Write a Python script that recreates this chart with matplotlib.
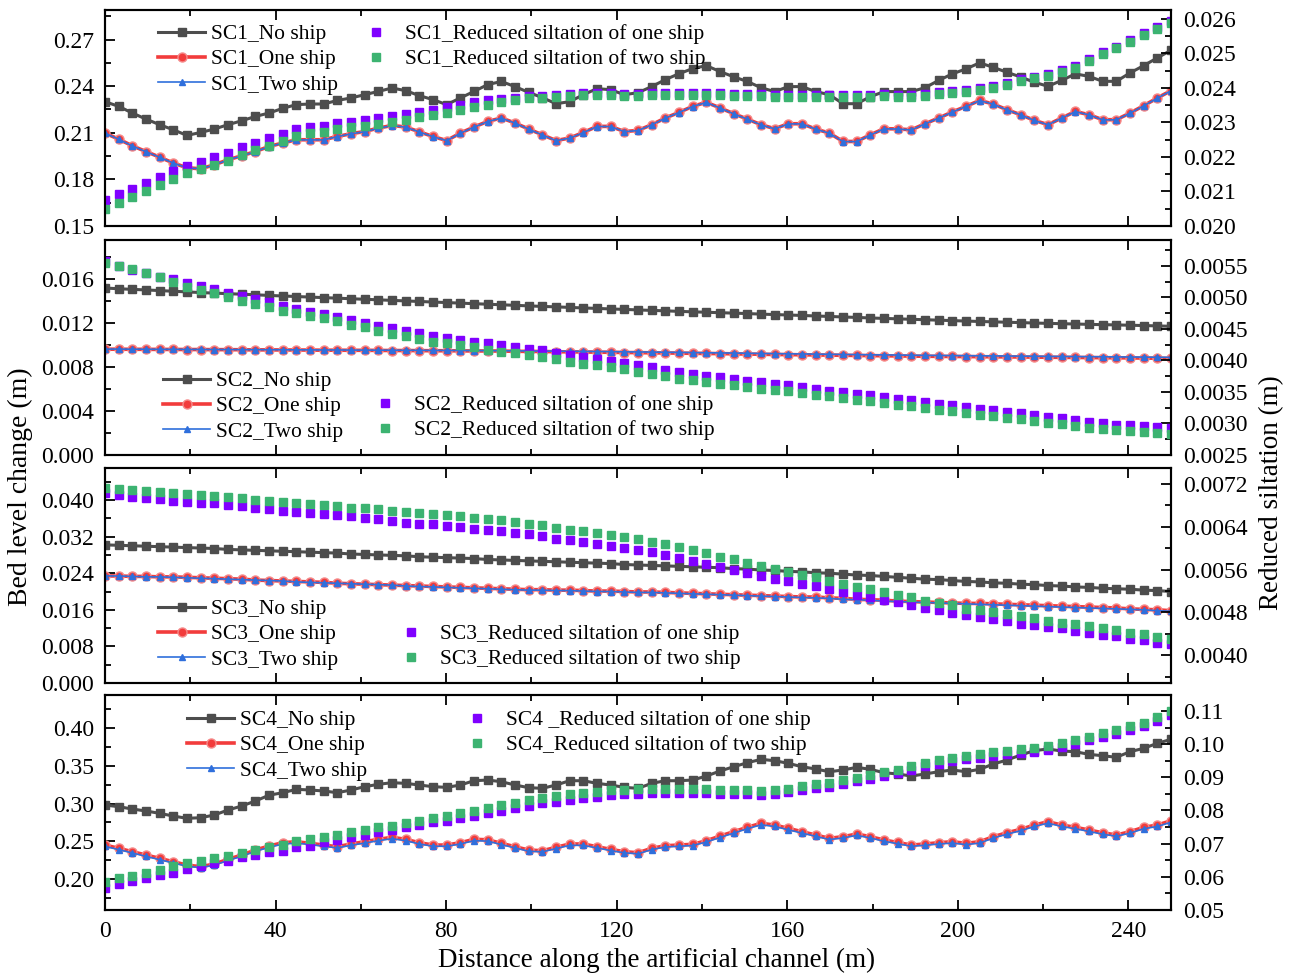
import numpy as np
import matplotlib
matplotlib.use("Agg")
import matplotlib.pyplot as plt
from matplotlib.ticker import MultipleLocator, FormatStrFormatter

plt.rcParams['font.family'] = ['Liberation Serif', 'DejaVu Serif']

# distance along the channel (79 stations, 0-250 m)
dist = np.linspace(0, 250, 79)

# ---------------- SC1 ----------------
sc1_no = [0.2300, 0.2270, 0.2227, 0.2188, 0.2152, 0.2119, 0.2083, 0.2102, 0.2124, 0.2152,
          0.2177, 0.2205, 0.2227, 0.2257, 0.2281, 0.2285, 0.2285, 0.2308, 0.2324, 0.2345,
          0.2366, 0.2388, 0.2371, 0.2339, 0.2313, 0.2281, 0.2324, 0.2366, 0.2410, 0.2430,
          0.2397, 0.2360, 0.2326, 0.2287, 0.2300, 0.2345, 0.2384, 0.2377, 0.2345, 0.2358,
          0.2397, 0.2442, 0.2480, 0.2513, 0.2532, 0.2494, 0.2460, 0.2430, 0.2390, 0.2365,
          0.2397, 0.2397, 0.2365, 0.2345, 0.2287, 0.2287, 0.2332, 0.2365, 0.2365, 0.2365,
          0.2390, 0.2437, 0.2479, 0.2511, 0.2550, 0.2521, 0.2489, 0.2459, 0.2425, 0.2399,
          0.2437, 0.2479, 0.2463, 0.2431, 0.2431, 0.2485, 0.2532, 0.2582, 0.2631]
sc1_one = [0.2098, 0.2059, 0.2016, 0.1979, 0.1943, 0.1905, 0.1875, 0.1868, 0.1894, 0.1926,
           0.1952, 0.1979, 0.2012, 0.2034, 0.2055, 0.2055, 0.2055, 0.2076, 0.2094, 0.2108,
           0.2130, 0.2147, 0.2137, 0.2106, 0.2076, 0.2050, 0.2098, 0.2137, 0.2173, 0.2195,
           0.2163, 0.2124, 0.2087, 0.2050, 0.2066, 0.2102, 0.2141, 0.2141, 0.2108, 0.2115,
           0.2152, 0.2195, 0.2231, 0.2270, 0.2296, 0.2260, 0.2223, 0.2188, 0.2152, 0.2126,
           0.2158, 0.2158, 0.2124, 0.2098, 0.2044, 0.2044, 0.2087, 0.2126, 0.2125, 0.2119,
           0.2158, 0.2195, 0.2234, 0.2270, 0.2308, 0.2285, 0.2248, 0.2216, 0.2180, 0.2152,
           0.2195, 0.2237, 0.2216, 0.2184, 0.2184, 0.2227, 0.2274, 0.2324, 0.2371]
sc1_two = [0.2097, 0.2058, 0.2015, 0.1978, 0.1942, 0.1905, 0.1874, 0.1868, 0.1893, 0.1925,
           0.1951, 0.1978, 0.2011, 0.2033, 0.2054, 0.2054, 0.2054, 0.2075, 0.2093, 0.2107,
           0.2129, 0.2146, 0.2136, 0.2105, 0.2075, 0.2049, 0.2097, 0.2136, 0.2172, 0.2194,
           0.2162, 0.2123, 0.2086, 0.2049, 0.2065, 0.2101, 0.2140, 0.2140, 0.2107, 0.2114,
           0.2151, 0.2194, 0.2230, 0.2269, 0.2295, 0.2259, 0.2222, 0.2187, 0.2151, 0.2125,
           0.2157, 0.2157, 0.2123, 0.2097, 0.2043, 0.2043, 0.2086, 0.2125, 0.2124, 0.2118,
           0.2157, 0.2194, 0.2233, 0.2269, 0.2307, 0.2284, 0.2247, 0.2215, 0.2179, 0.2151,
           0.2194, 0.2236, 0.2215, 0.2183, 0.2183, 0.2226, 0.2273, 0.2323, 0.2370]
sc1_red_one = [0.02075, 0.02092, 0.02107, 0.02126, 0.02143, 0.02159, 0.02175, 0.02186, 0.02201, 0.02212,
               0.02228, 0.02240, 0.02254, 0.02267, 0.02281, 0.02288, 0.02291, 0.02298, 0.02302, 0.02307,
               0.02312, 0.02319, 0.02324, 0.02330, 0.02336, 0.02344, 0.02351, 0.02359, 0.02365, 0.02368,
               0.02372, 0.02376, 0.02377, 0.02379, 0.02382, 0.02385, 0.02386, 0.02386, 0.02384, 0.02384,
               0.02386, 0.02386, 0.02386, 0.02386, 0.02386, 0.02386, 0.02384, 0.02384, 0.02383, 0.02381,
               0.02379, 0.02379, 0.02379, 0.02381, 0.02379, 0.02379, 0.02379, 0.02382, 0.02381, 0.02379,
               0.02383, 0.02387, 0.02391, 0.02394, 0.02399, 0.02406, 0.02414, 0.02425, 0.02433, 0.02441,
               0.02452, 0.02464, 0.02484, 0.02503, 0.02520, 0.02539, 0.02559, 0.02576, 0.02593]
sc1_red_two = [0.02048, 0.02066, 0.02083, 0.02101, 0.02119, 0.02135, 0.02153, 0.02164, 0.02177, 0.02189,
               0.02206, 0.02220, 0.02233, 0.02247, 0.02261, 0.02269, 0.02273, 0.02281, 0.02286, 0.02290,
               0.02296, 0.02302, 0.02307, 0.02315, 0.02322, 0.02327, 0.02336, 0.02344, 0.02351, 0.02360,
               0.02365, 0.02370, 0.02370, 0.02373, 0.02377, 0.02380, 0.02380, 0.02380, 0.02377, 0.02377,
               0.02380, 0.02380, 0.02380, 0.02380, 0.02380, 0.02380, 0.02377, 0.02377, 0.02377, 0.02375,
               0.02373, 0.02373, 0.02373, 0.02375, 0.02373, 0.02373, 0.02373, 0.02377, 0.02375, 0.02373,
               0.02378, 0.02382, 0.02386, 0.02389, 0.02394, 0.02401, 0.02409, 0.02420, 0.02428, 0.02436,
               0.02447, 0.02459, 0.02479, 0.02498, 0.02515, 0.02534, 0.02554, 0.02571, 0.02588]

# ---------------- SC2 ----------------
sc2_no = [0.01518, 0.01512, 0.01506, 0.01501, 0.01495, 0.01489, 0.01483, 0.01477, 0.01472, 0.01467,
          0.01462, 0.01457, 0.01451, 0.01446, 0.01441, 0.01436, 0.01431, 0.01426, 0.01421, 0.01416,
          0.01411, 0.01406, 0.01401, 0.01396, 0.01391, 0.01386, 0.01381, 0.01376, 0.01371, 0.01366,
          0.01361, 0.01356, 0.01351, 0.01347, 0.01342, 0.01337, 0.01333, 0.01328, 0.01324, 0.01319,
          0.01315, 0.01311, 0.01306, 0.01302, 0.01298, 0.01294, 0.01290, 0.01286, 0.01281, 0.01277,
          0.01273, 0.01269, 0.01264, 0.01260, 0.01255, 0.01251, 0.01246, 0.01242, 0.01238, 0.01234,
          0.01230, 0.01226, 0.01222, 0.01218, 0.01214, 0.01211, 0.01207, 0.01204, 0.01200, 0.01197,
          0.01194, 0.01191, 0.01188, 0.01185, 0.01183, 0.01180, 0.01177, 0.01174, 0.01170]
sc2_one = [0.00962, 0.00962, 0.00961, 0.00961, 0.00960, 0.00960, 0.00959, 0.00959, 0.00958, 0.00958,
           0.00957, 0.00956, 0.00956, 0.00955, 0.00955, 0.00954, 0.00953, 0.00953, 0.00952, 0.00952,
           0.00951, 0.00950, 0.00950, 0.00949, 0.00948, 0.00948, 0.00947, 0.00946, 0.00946, 0.00945,
           0.00943, 0.00942, 0.00941, 0.00939, 0.00938, 0.00937, 0.00935, 0.00934, 0.00932, 0.00931,
           0.00929, 0.00928, 0.00926, 0.00925, 0.00923, 0.00922, 0.00920, 0.00918, 0.00916, 0.00914,
           0.00913, 0.00911, 0.00910, 0.00908, 0.00907, 0.00905, 0.00904, 0.00902, 0.00901, 0.00899,
           0.00898, 0.00897, 0.00896, 0.00895, 0.00894, 0.00893, 0.00892, 0.00891, 0.00890, 0.00889,
           0.00888, 0.00887, 0.00886, 0.00885, 0.00884, 0.00883, 0.00881, 0.00880, 0.00878]
sc2_two = [0.00963, 0.00963, 0.00962, 0.00962, 0.00961, 0.00961, 0.00960, 0.00960, 0.00959, 0.00959,
           0.00958, 0.00958, 0.00957, 0.00957, 0.00956, 0.00956, 0.00955, 0.00955, 0.00954, 0.00954,
           0.00953, 0.00953, 0.00952, 0.00952, 0.00951, 0.00951, 0.00950, 0.00950, 0.00949, 0.00948,
           0.00947, 0.00946, 0.00945, 0.00944, 0.00943, 0.00942, 0.00941, 0.00940, 0.00938, 0.00937,
           0.00936, 0.00934, 0.00933, 0.00931, 0.00930, 0.00928, 0.00927, 0.00925, 0.00923, 0.00922,
           0.00920, 0.00919, 0.00917, 0.00916, 0.00914, 0.00913, 0.00911, 0.00910, 0.00909, 0.00907,
           0.00906, 0.00905, 0.00904, 0.00903, 0.00902, 0.00901, 0.00900, 0.00899, 0.00898, 0.00897,
           0.00896, 0.00895, 0.00894, 0.00893, 0.00892, 0.00891, 0.00890, 0.00889, 0.00888]
sc2_red_one = [0.00558, 0.00549, 0.00544, 0.00538, 0.00533, 0.00529, 0.00523, 0.00518, 0.00513, 0.00507,
               0.00502, 0.00497, 0.00492, 0.00487, 0.00481, 0.00477, 0.00474, 0.00469, 0.00464, 0.00460,
               0.00455, 0.00451, 0.00447, 0.00443, 0.00439, 0.00435, 0.00433, 0.00430, 0.00427, 0.00424,
               0.00421, 0.00418, 0.00416, 0.00412, 0.00408, 0.00405, 0.00402, 0.00399, 0.00396, 0.00392,
               0.00389, 0.00385, 0.00381, 0.00379, 0.00375, 0.00373, 0.00371, 0.00368, 0.00365, 0.00363,
               0.00361, 0.00358, 0.00355, 0.00352, 0.00350, 0.00347, 0.00345, 0.00342, 0.00339, 0.00337,
               0.00334, 0.00331, 0.00329, 0.00326, 0.00323, 0.00321, 0.00318, 0.00316, 0.00313, 0.00310,
               0.00308, 0.00305, 0.00302, 0.00300, 0.00298, 0.00297, 0.00296, 0.00294, 0.00293]
sc2_red_two = [0.00554, 0.00550, 0.00545, 0.00539, 0.00532, 0.00525, 0.00517, 0.00512, 0.00507, 0.00500,
               0.00494, 0.00490, 0.00485, 0.00479, 0.00475, 0.00471, 0.00467, 0.00462, 0.00456, 0.00453,
               0.00447, 0.00442, 0.00438, 0.00434, 0.00430, 0.00428, 0.00425, 0.00421, 0.00417, 0.00414,
               0.00411, 0.00408, 0.00406, 0.00402, 0.00398, 0.00395, 0.00392, 0.00389, 0.00386, 0.00382,
               0.00379, 0.00375, 0.00371, 0.00369, 0.00365, 0.00363, 0.00361, 0.00358, 0.00355, 0.00353,
               0.00351, 0.00348, 0.00345, 0.00343, 0.00341, 0.00338, 0.00336, 0.00333, 0.00330, 0.00328,
               0.00325, 0.00322, 0.00320, 0.00317, 0.00314, 0.00312, 0.00309, 0.00307, 0.00304, 0.00301,
               0.00299, 0.00296, 0.00293, 0.00291, 0.00289, 0.00288, 0.00287, 0.00285, 0.00284]

# ---------------- SC3 ----------------
sc3_no = [0.0302, 0.0301, 0.0300, 0.0299, 0.0298, 0.0297, 0.0296, 0.0295, 0.0294, 0.0292,
          0.0291, 0.0290, 0.0289, 0.0288, 0.0287, 0.0286, 0.0285, 0.0284, 0.0282, 0.0281,
          0.0280, 0.0279, 0.0278, 0.0276, 0.0275, 0.0274, 0.0273, 0.0272, 0.0270, 0.0269,
          0.0268, 0.0267, 0.0266, 0.0265, 0.0264, 0.0263, 0.0262, 0.0261, 0.0259, 0.0258,
          0.0257, 0.0256, 0.0255, 0.0254, 0.0253, 0.0252, 0.0250, 0.0249, 0.0247, 0.0246,
          0.0244, 0.0243, 0.0241, 0.0240, 0.0238, 0.0236, 0.0235, 0.0233, 0.0231, 0.0229,
          0.0227, 0.0226, 0.0224, 0.0222, 0.0221, 0.0219, 0.0218, 0.0216, 0.0215, 0.0213,
          0.0212, 0.0210, 0.0209, 0.0207, 0.0206, 0.0205, 0.0203, 0.0202, 0.0200]
sc3_one = [0.0234, 0.0234, 0.0233, 0.0233, 0.0232, 0.0232, 0.0231, 0.0230, 0.0229, 0.0228,
           0.0227, 0.0225, 0.0224, 0.0223, 0.0222, 0.0221, 0.0220, 0.0218, 0.0217, 0.0216,
           0.0215, 0.0214, 0.0213, 0.0212, 0.0211, 0.0210, 0.0209, 0.0208, 0.0207, 0.0206,
           0.0205, 0.0204, 0.0204, 0.0203, 0.0203, 0.0202, 0.0201, 0.0201, 0.0200, 0.0199,
           0.0199, 0.0198, 0.0197, 0.0196, 0.0195, 0.0194, 0.0193, 0.0192, 0.0191, 0.0190,
           0.0189, 0.0188, 0.0188, 0.0186, 0.0185, 0.0183, 0.0182, 0.0181, 0.0179, 0.0178,
           0.0177, 0.0176, 0.0175, 0.0174, 0.0174, 0.0173, 0.0172, 0.0171, 0.0170, 0.0169,
           0.0168, 0.0167, 0.0166, 0.0165, 0.0164, 0.0162, 0.0161, 0.0160, 0.0158]
sc3_two = [0.0234, 0.0234, 0.0233, 0.0232, 0.0232, 0.0231, 0.0230, 0.0229, 0.0228, 0.0227,
           0.0226, 0.0225, 0.0224, 0.0223, 0.0221, 0.0220, 0.0219, 0.0218, 0.0217, 0.0216,
           0.0215, 0.0214, 0.0212, 0.0211, 0.0210, 0.0209, 0.0208, 0.0207, 0.0206, 0.0205,
           0.0204, 0.0203, 0.0203, 0.0202, 0.0202, 0.0201, 0.0200, 0.0200, 0.0199, 0.0198,
           0.0198, 0.0197, 0.0196, 0.0195, 0.0194, 0.0193, 0.0192, 0.0191, 0.0190, 0.0189,
           0.0188, 0.0187, 0.0186, 0.0185, 0.0183, 0.0182, 0.0181, 0.0179, 0.0178, 0.0177,
           0.0176, 0.0175, 0.0174, 0.0173, 0.0172, 0.0171, 0.0170, 0.0169, 0.0168, 0.0167,
           0.0166, 0.0165, 0.0164, 0.0163, 0.0162, 0.0161, 0.0160, 0.0158, 0.0157]
sc3_red_one = [0.00703, 0.00699, 0.00696, 0.00694, 0.00692, 0.00689, 0.00687, 0.00685, 0.00684, 0.00681,
               0.00679, 0.00676, 0.00673, 0.00670, 0.00668, 0.00666, 0.00664, 0.00662, 0.00660, 0.00657,
               0.00654, 0.00651, 0.00648, 0.00646, 0.00645, 0.00642, 0.00639, 0.00636, 0.00634, 0.00632,
               0.00629, 0.00627, 0.00623, 0.00618, 0.00615, 0.00612, 0.00608, 0.00604, 0.00600, 0.00596,
               0.00593, 0.00588, 0.00582, 0.00576, 0.00571, 0.00565, 0.00560, 0.00554, 0.00548, 0.00543,
               0.00538, 0.00533, 0.00529, 0.00523, 0.00518, 0.00513, 0.00509, 0.00504, 0.00499, 0.00493,
               0.00488, 0.00484, 0.00479, 0.00475, 0.00471, 0.00468, 0.00464, 0.00459, 0.00456, 0.00453,
               0.00450, 0.00445, 0.00442, 0.00437, 0.00435, 0.00431, 0.00428, 0.00423, 0.00420]
sc3_red_two = [0.00713, 0.00710, 0.00708, 0.00707, 0.00705, 0.00703, 0.00701, 0.00699, 0.00698, 0.00696,
               0.00693, 0.00691, 0.00689, 0.00687, 0.00685, 0.00682, 0.00681, 0.00679, 0.00676, 0.00675,
               0.00673, 0.00670, 0.00668, 0.00666, 0.00664, 0.00662, 0.00660, 0.00657, 0.00655, 0.00652,
               0.00649, 0.00646, 0.00643, 0.00638, 0.00635, 0.00632, 0.00628, 0.00625, 0.00621, 0.00617,
               0.00612, 0.00607, 0.00602, 0.00596, 0.00591, 0.00584, 0.00579, 0.00573, 0.00567, 0.00562,
               0.00555, 0.00550, 0.00546, 0.00539, 0.00534, 0.00528, 0.00524, 0.00518, 0.00513, 0.00508,
               0.00502, 0.00498, 0.00494, 0.00487, 0.00484, 0.00481, 0.00477, 0.00473, 0.00469, 0.00464,
               0.00461, 0.00458, 0.00454, 0.00450, 0.00447, 0.00442, 0.00439, 0.00434, 0.00431]

# ---------------- SC4 ----------------
sc4_no = [0.2980, 0.2958, 0.2927, 0.2901, 0.2870, 0.2834, 0.2804, 0.2812, 0.2848, 0.2914,
          0.2967, 0.3033, 0.3110, 0.3143, 0.3188, 0.3179, 0.3166, 0.3143, 0.3179, 0.3223,
          0.3254, 0.3276, 0.3267, 0.3245, 0.3223, 0.3214, 0.3245, 0.3302, 0.3311, 0.3289,
          0.3245, 0.3210, 0.3201, 0.3245, 0.3302, 0.3302, 0.3267, 0.3245, 0.3214, 0.3201,
          0.3267, 0.3302, 0.3302, 0.3311, 0.3364, 0.3430, 0.3487, 0.3540, 0.3585, 0.3567,
          0.3532, 0.3487, 0.3457, 0.3421, 0.3444, 0.3479, 0.3453, 0.3408, 0.3391, 0.3364,
          0.3391, 0.3421, 0.3444, 0.3421, 0.3453, 0.3523, 0.3576, 0.3642, 0.3700, 0.3722,
          0.3695, 0.3686, 0.3651, 0.3633, 0.3612, 0.3686, 0.3731, 0.3797, 0.3850]
sc4_one = [0.2450, 0.2407, 0.2362, 0.2318, 0.2274, 0.2229, 0.2185, 0.2163, 0.2199, 0.2261,
           0.2318, 0.2384, 0.2437, 0.2481, 0.2494, 0.2473, 0.2450, 0.2428, 0.2464, 0.2494,
           0.2526, 0.2552, 0.2526, 0.2481, 0.2450, 0.2450, 0.2481, 0.2526, 0.2520, 0.2473,
           0.2428, 0.2384, 0.2375, 0.2420, 0.2464, 0.2464, 0.2428, 0.2393, 0.2362, 0.2348,
           0.2407, 0.2441, 0.2450, 0.2460, 0.2507, 0.2569, 0.2627, 0.2685, 0.2738, 0.2715,
           0.2671, 0.2627, 0.2583, 0.2539, 0.2561, 0.2596, 0.2561, 0.2517, 0.2484, 0.2450,
           0.2464, 0.2481, 0.2494, 0.2473, 0.2494, 0.2561, 0.2613, 0.2658, 0.2715, 0.2759,
           0.2715, 0.2685, 0.2649, 0.2613, 0.2583, 0.2627, 0.2685, 0.2715, 0.2772]
sc4_two = [0.2432, 0.2390, 0.2345, 0.2300, 0.2256, 0.2212, 0.2170, 0.2150, 0.2185, 0.2245,
           0.2302, 0.2366, 0.2420, 0.2462, 0.2476, 0.2456, 0.2434, 0.2412, 0.2447, 0.2476,
           0.2508, 0.2534, 0.2508, 0.2464, 0.2434, 0.2434, 0.2464, 0.2508, 0.2502, 0.2456,
           0.2412, 0.2368, 0.2360, 0.2403, 0.2446, 0.2446, 0.2412, 0.2377, 0.2347, 0.2334,
           0.2390, 0.2424, 0.2434, 0.2444, 0.2490, 0.2550, 0.2608, 0.2666, 0.2718, 0.2696,
           0.2652, 0.2608, 0.2566, 0.2523, 0.2544, 0.2578, 0.2544, 0.2500, 0.2468, 0.2434,
           0.2447, 0.2464, 0.2476, 0.2456, 0.2476, 0.2543, 0.2594, 0.2640, 0.2696, 0.2740,
           0.2696, 0.2666, 0.2630, 0.2594, 0.2566, 0.2608, 0.2666, 0.2696, 0.2752]
sc4_red_one = [0.05676, 0.05797, 0.05879, 0.05960, 0.06061, 0.06130, 0.06233, 0.06333, 0.06403, 0.06485,
               0.06585, 0.06657, 0.06736, 0.06788, 0.06888, 0.06939, 0.07040, 0.07121, 0.07192, 0.07273,
               0.07343, 0.07424, 0.07494, 0.07576, 0.07646, 0.07697, 0.07778, 0.07848, 0.07918, 0.07990,
               0.08065, 0.08145, 0.08225, 0.08270, 0.08330, 0.08375, 0.08410, 0.08460, 0.08485, 0.08500,
               0.08520, 0.08525, 0.08530, 0.08530, 0.08515, 0.08505, 0.08490, 0.08490, 0.08475, 0.08495,
               0.08545, 0.08615, 0.08675, 0.08720, 0.08800, 0.08880, 0.08950, 0.09050, 0.09120, 0.09230,
               0.09330, 0.09410, 0.09480, 0.09540, 0.09590, 0.09640, 0.09690, 0.09740, 0.09760, 0.09830,
               0.09910, 0.10010, 0.10110, 0.10210, 0.10310, 0.10440, 0.10540, 0.10710, 0.10880]
sc4_red_two = [0.05858, 0.05960, 0.06030, 0.06130, 0.06212, 0.06312, 0.06403, 0.06485, 0.06566, 0.06636,
               0.06707, 0.06808, 0.06888, 0.06970, 0.07070, 0.07141, 0.07192, 0.07273, 0.07343, 0.07414,
               0.07494, 0.07545, 0.07626, 0.07697, 0.07768, 0.07848, 0.07918, 0.07979, 0.08065, 0.08152,
               0.08222, 0.08303, 0.08384, 0.08424, 0.08485, 0.08525, 0.08556, 0.08606, 0.08626, 0.08636,
               0.08657, 0.08657, 0.08657, 0.08657, 0.08636, 0.08626, 0.08606, 0.08606, 0.08586, 0.08606,
               0.08657, 0.08727, 0.08788, 0.08828, 0.08909, 0.08990, 0.09061, 0.09162, 0.09232, 0.09333,
               0.09434, 0.09515, 0.09586, 0.09646, 0.09697, 0.09747, 0.09798, 0.09848, 0.09869, 0.09939,
               0.10020, 0.10120, 0.10220, 0.10320, 0.10420, 0.10550, 0.10650, 0.10830, 0.11010]

panels = [
    dict(tag="SC1", no=sc1_no, one=sc1_one, two=sc1_two, r1=sc1_red_one, r2=sc1_red_two,
         ylim=(0.15, 0.289), ymaj=0.03, yfmt="%.2f", y2lim=(0.020, 0.02626), y2maj=0.001, y2fmt="%.3f",
         leg1=(158, 33), leg2=(352, 33), r1_label="SC1_Reduced siltation of one ship"),
    dict(tag="SC2", no=sc2_no, one=sc2_one, two=sc2_two, r1=sc2_red_one, r2=sc2_red_two,
         ylim=(0.0, 0.01955), ymaj=0.004, yfmt="%.3f", y2lim=(0.0025, 0.00591), y2maj=0.0005, y2fmt="%.4f",
         leg1=(163, 380), leg2=(361, 404), r1_label="SC2_Reduced siltation of one ship"),
    dict(tag="SC3", no=sc3_no, one=sc3_one, two=sc3_two, r1=sc3_red_one, r2=sc3_red_two,
         ylim=(0.0, 0.047), ymaj=0.008, yfmt="%.3f", y2lim=(0.00348, 0.0075), y2maj=0.0008, y2fmt="%.4f",
         leg1=(158, 608), leg2=(387, 633), r1_label="SC3_Reduced siltation of one ship"),
    dict(tag="SC4", no=sc4_no, one=sc4_one, two=sc4_two, r1=sc4_red_one, r2=sc4_red_two,
         ylim=(0.159, 0.4437), ymaj=0.05, yfmt="%.2f", y2lim=(0.05, 0.1148), y2maj=0.01, y2fmt="%.2f",
         leg1=(187, 719), leg2=(453, 719), r1_label="SC4 _Reduced siltation of one ship"),
]

W, H = 1290, 975
fig = plt.figure(figsize=(12.9, 9.75), dpi=100)

tops = [10, 240, 468, 695]
bots = [226, 455, 683, 910]
left_px, right_px = 105, 1171

def fxy(px, py):
    return px / W, 1 - py / H

for k, p in enumerate(panels):
    ax = fig.add_axes([left_px / W, 1 - bots[k] / H, (right_px - left_px) / W, (bots[k] - tops[k]) / H])
    ax2 = ax.twinx()

    l1, = ax.plot(dist, p["no"], color="#4d4d4d", lw=2.2, marker="s", ms=6, label=p["tag"] + "_No ship")
    l2, = ax.plot(dist, p["one"], color="#f23c3c", lw=2.6, marker="o", ms=6.5,
                  mfc="#f23c3c", mec="#f58a8a", mew=1, label=p["tag"] + "_One ship")
    l3, = ax.plot(dist, p["two"], color="#2f6fdc", lw=1.2, marker="^", ms=4.2, label=p["tag"] + "_Two ship")

    s1, = ax2.plot(dist, p["r1"], ls="none", marker="s", ms=6.2, color="#8000ff", label=p["r1_label"])
    s2, = ax2.plot(dist, p["r2"], ls="none", marker="s", ms=6.2, color="#3cb371",
                   label=p["tag"] + "_Reduced siltation of two ship")

    ax.set_xlim(0, 250)
    ax.set_ylim(*p["ylim"])
    ax2.set_ylim(*p["y2lim"])
    ax.xaxis.set_major_locator(MultipleLocator(40))
    ax.xaxis.set_minor_locator(MultipleLocator(20))
    ax.yaxis.set_major_locator(MultipleLocator(p["ymaj"]))
    ax.yaxis.set_minor_locator(MultipleLocator(p["ymaj"] / 2))
    ax.yaxis.set_major_formatter(FormatStrFormatter(p["yfmt"]))
    ax2.yaxis.set_major_locator(MultipleLocator(p["y2maj"]))
    ax2.yaxis.set_minor_locator(MultipleLocator(p["y2maj"] / 2))
    ax2.yaxis.set_major_formatter(FormatStrFormatter(p["y2fmt"]))

    ax.tick_params(which="both", direction="in", top=True, labelsize=17, width=1.3, pad=8)
    ax.tick_params(which="major", length=7)
    ax.tick_params(which="minor", length=4)
    ax2.tick_params(which="both", direction="in", labelsize=17, width=1.3, pad=8.5)
    ax2.tick_params(which="major", length=7)
    ax2.tick_params(which="minor", length=4)
    for a in (ax, ax2):
        for s in a.spines.values():
            s.set_linewidth(1.5)
    if k < 3:
        ax.tick_params(labelbottom=False)

    legkw = dict(loc="upper left", frameon=False, fontsize=15.5, borderpad=0, borderaxespad=0,
                 handlelength=2.2, handletextpad=0.25, labelspacing=0.24,
                 bbox_transform=fig.transFigure)
    lg1 = ax2.legend(handles=[l1, l2, l3], bbox_to_anchor=fxy(p["leg1"][0], p["leg1"][1] - 9), **legkw)
    ax2.add_artist(lg1)
    ax2.legend(handles=[s1, s2], bbox_to_anchor=fxy(p["leg2"][0], p["leg2"][1] - 9), numpoints=1, **legkw)

fig.text(20 / W, 1 - 487 / H, "Bed level change (m)", rotation=90, fontsize=20, ha="center", va="center")
fig.text(1272 / W, 1 - 493 / H, "Reduced siltation (m)", rotation=90, fontsize=19.5, ha="center", va="center")
fig.text(657 / W, 1 - 960 / H, "Distance along the artificial channel (m)", fontsize=19.5, ha="center", va="center")

fig.savefig("out.png", dpi=100)
